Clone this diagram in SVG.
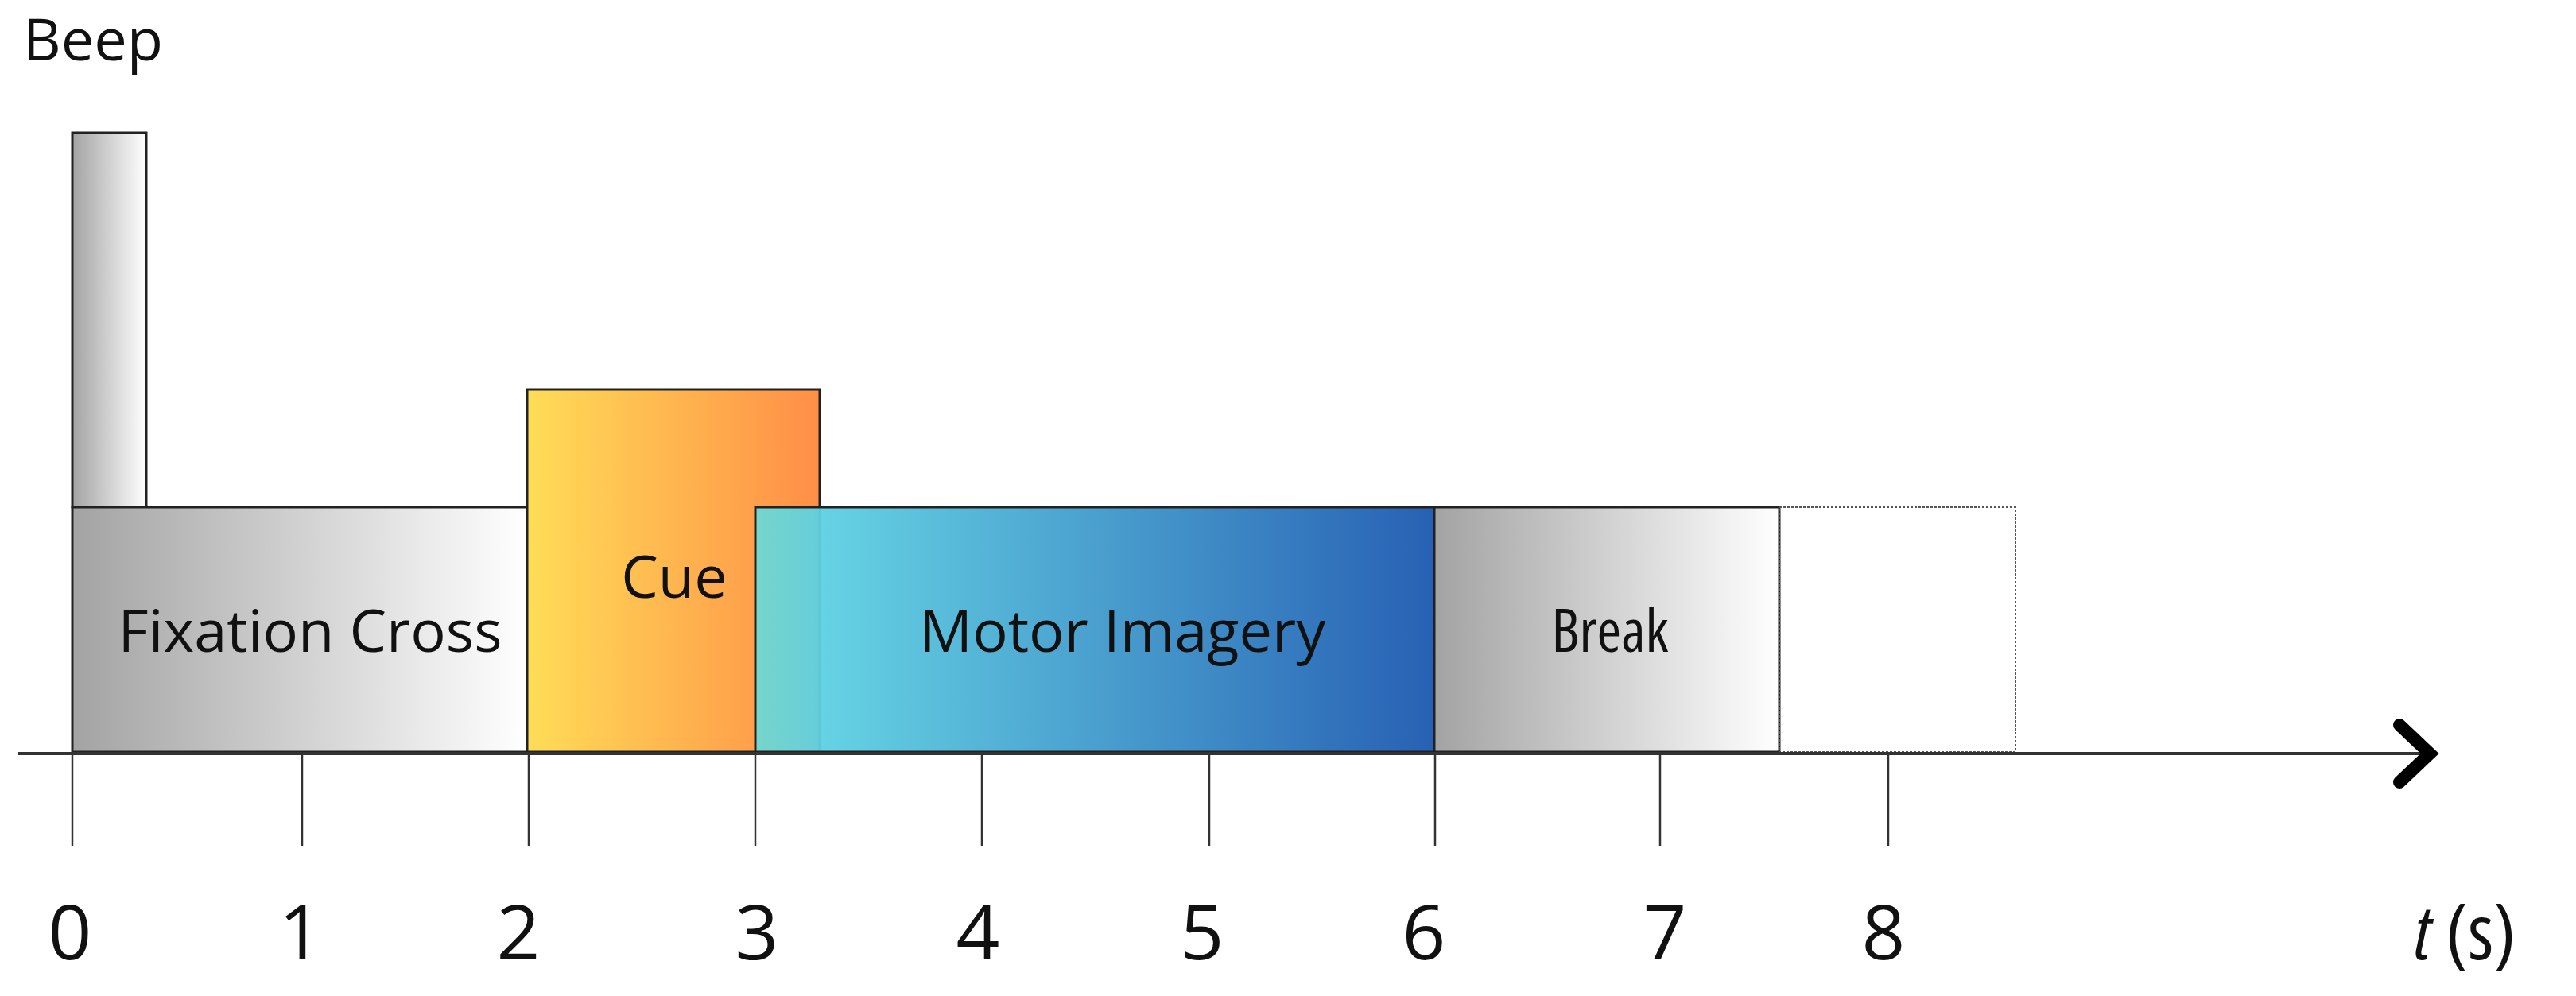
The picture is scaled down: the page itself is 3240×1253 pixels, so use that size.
<svg xmlns="http://www.w3.org/2000/svg" width="3240" height="1253" viewBox="0 0 3240 1253">
<style>
.lbl{font-family:"Open Sans","Noto Sans",sans-serif;font-size:74px;fill:#111;text-anchor:middle}
.num{font-family:"Open Sans","Noto Sans",sans-serif;font-size:96px;fill:#111;text-anchor:middle}
.box{stroke:#222;stroke-width:3}
.tick{stroke:#333;stroke-width:2.5}
</style>
<defs>
<linearGradient id="gray"><stop offset="0" stop-color="#a3a3a3"/><stop offset="1" stop-color="#ffffff"/></linearGradient>
<linearGradient id="cue"><stop offset="0" stop-color="#ffdd57"/><stop offset="1" stop-color="#ff8e47"/></linearGradient>
<linearGradient id="mi"><stop offset="0" stop-color="#6fd8d2"/><stop offset="0.1" stop-color="#5dd0e2"/><stop offset="1" stop-color="#1c58b0"/></linearGradient>
</defs>
<g id="beep"><rect class="box" x="91" y="167" width="93" height="471" fill="url(#gray)"/><text class="lbl" x="117" y="76">Beep</text></g>
<g id="fixation"><rect class="box" x="91" y="638" width="572" height="308" fill="url(#gray)"/><text class="lbl" x="390" y="820">Fixation Cross</text></g>
<g id="cue-node"><rect class="box" x="663" y="490" width="368" height="456" fill="url(#cue)"/><text class="lbl" x="848" y="752">Cue</text></g>
<g id="motor"><rect class="box" x="950" y="638" width="854" height="308" fill="url(#mi)" fill-opacity="0.95"/><text class="lbl" x="1412" y="820">Motor Imagery</text></g>
<g id="break"><rect class="box" x="1804" y="638" width="434" height="308" fill="url(#gray)"/><text class="lbl" x="2025" y="820" font-stretch="condensed">Break</text></g>
<g id="blank"><rect x="2238" y="638" width="297" height="308" fill="none" stroke="#555" stroke-width="2" stroke-dasharray="3 2"/></g>
<g id="axis">
<line x1="23" y1="948" x2="3055" y2="948" stroke="#333" stroke-width="4"/>
<polyline points="3018,912 3056,948 3018,984" fill="none" stroke="#000" stroke-width="16" stroke-linecap="round" stroke-linejoin="miter"/>
<line class="tick" x1="91" y1="948" x2="91" y2="1064"/>
<line class="tick" x1="380" y1="948" x2="380" y2="1064"/>
<line class="tick" x1="665" y1="948" x2="665" y2="1064"/>
<line class="tick" x1="950" y1="948" x2="950" y2="1064"/>
<line class="tick" x1="1235" y1="948" x2="1235" y2="1064"/>
<line class="tick" x1="1521" y1="948" x2="1521" y2="1064"/>
<line class="tick" x1="1805" y1="948" x2="1805" y2="1064"/>
<line class="tick" x1="2088" y1="948" x2="2088" y2="1064"/>
<line class="tick" x1="2375" y1="948" x2="2375" y2="1064"/>
<text class="num" x="88" y="1207">0</text>
<text class="num" x="378" y="1207">1</text>
<text class="num" x="652" y="1207">2</text>
<text class="num" x="952" y="1207">3</text>
<text class="num" x="1230" y="1207">4</text>
<text class="num" x="1512" y="1207">5</text>
<text class="num" x="1791" y="1207">6</text>
<text class="num" x="2094" y="1207">7</text>
<text class="num" x="2369" y="1207">8</text>
<text class="num" x="3100" y="1207" font-stretch="condensed"><tspan font-style="italic">t</tspan> (s)</text>
</g>
</svg>
